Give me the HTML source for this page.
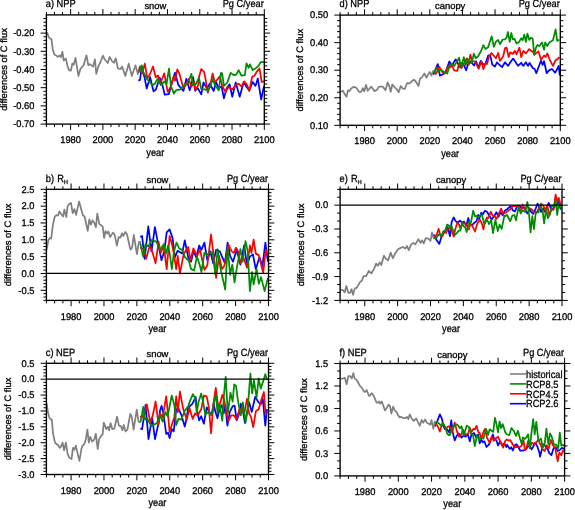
<!DOCTYPE html>
<html><head><meta charset="utf-8"><style>
html,body{margin:0;padding:0;background:#fff;}
svg{display:block;will-change:transform;}
text{font-family:"Liberation Sans",sans-serif;font-size:9.4px;fill:#000;stroke:#000;stroke-width:0.3px;text-rendering:geometricPrecision;}
.t{font-size:9.7px;}
.xy{font-size:10.4px;}
</style></head><body>
<svg width="575" height="510" viewBox="0 0 575 510">
<rect width="575" height="510" fill="#fff"/>
<path d="M46.40 124.10v3.0M46.40 14.90v-3.0M54.47 124.10v3.0M54.47 14.90v-3.0M62.54 124.10v3.0M62.54 14.90v-3.0M70.61 124.10v5.8M70.61 14.90v-5.8M78.68 124.10v3.0M78.68 14.90v-3.0M86.75 124.10v3.0M86.75 14.90v-3.0M94.82 124.10v3.0M94.82 14.90v-3.0M102.89 124.10v5.8M102.89 14.90v-5.8M110.96 124.10v3.0M110.96 14.90v-3.0M119.03 124.10v3.0M119.03 14.90v-3.0M127.10 124.10v3.0M127.10 14.90v-3.0M135.17 124.10v5.8M135.17 14.90v-5.8M143.24 124.10v3.0M143.24 14.90v-3.0M151.31 124.10v3.0M151.31 14.90v-3.0M159.39 124.10v3.0M159.39 14.90v-3.0M167.46 124.10v5.8M167.46 14.90v-5.8M175.53 124.10v3.0M175.53 14.90v-3.0M183.60 124.10v3.0M183.60 14.90v-3.0M191.67 124.10v3.0M191.67 14.90v-3.0M199.74 124.10v5.8M199.74 14.90v-5.8M207.81 124.10v3.0M207.81 14.90v-3.0M215.88 124.10v3.0M215.88 14.90v-3.0M223.95 124.10v3.0M223.95 14.90v-3.0M232.02 124.10v5.8M232.02 14.90v-5.8M240.09 124.10v3.0M240.09 14.90v-3.0M248.16 124.10v3.0M248.16 14.90v-3.0M256.23 124.10v3.0M256.23 14.90v-3.0M264.30 124.10v5.8M264.30 14.90v-5.8M46.40 124.10h-5.8M264.30 124.10h5.8M46.40 120.46h-3.0M264.30 120.46h3.0M46.40 116.82h-3.0M264.30 116.82h3.0M46.40 113.18h-3.0M264.30 113.18h3.0M46.40 109.54h-3.0M264.30 109.54h3.0M46.40 105.90h-5.8M264.30 105.90h5.8M46.40 102.26h-3.0M264.30 102.26h3.0M46.40 98.62h-3.0M264.30 98.62h3.0M46.40 94.98h-3.0M264.30 94.98h3.0M46.40 91.34h-3.0M264.30 91.34h3.0M46.40 87.70h-5.8M264.30 87.70h5.8M46.40 84.06h-3.0M264.30 84.06h3.0M46.40 80.42h-3.0M264.30 80.42h3.0M46.40 76.78h-3.0M264.30 76.78h3.0M46.40 73.14h-3.0M264.30 73.14h3.0M46.40 69.50h-5.8M264.30 69.50h5.8M46.40 65.86h-3.0M264.30 65.86h3.0M46.40 62.22h-3.0M264.30 62.22h3.0M46.40 58.58h-3.0M264.30 58.58h3.0M46.40 54.94h-3.0M264.30 54.94h3.0M46.40 51.30h-5.8M264.30 51.30h5.8M46.40 47.66h-3.0M264.30 47.66h3.0M46.40 44.02h-3.0M264.30 44.02h3.0M46.40 40.38h-3.0M264.30 40.38h3.0M46.40 36.74h-3.0M264.30 36.74h3.0M46.40 33.10h-5.8M264.30 33.10h5.8M46.40 29.46h-3.0M264.30 29.46h3.0M46.40 25.82h-3.0M264.30 25.82h3.0M46.40 22.18h-3.0M264.30 22.18h3.0M46.40 18.54h-3.0M264.30 18.54h3.0" stroke="#000" stroke-width="1" fill="none"/>
<text class="t" transform="translate(34.40,36.30) scale(0.96,1)" text-anchor="end">-0.20</text>
<text class="t" transform="translate(34.40,54.50) scale(0.96,1)" text-anchor="end">-0.30</text>
<text class="t" transform="translate(34.40,72.70) scale(0.96,1)" text-anchor="end">-0.40</text>
<text class="t" transform="translate(34.40,90.90) scale(0.96,1)" text-anchor="end">-0.50</text>
<text class="t" transform="translate(34.40,109.10) scale(0.96,1)" text-anchor="end">-0.60</text>
<text class="t" transform="translate(34.40,127.30) scale(0.96,1)" text-anchor="end">-0.70</text>
<text class="t" transform="translate(70.61,143.20) scale(0.96,1)" text-anchor="middle">1980</text>
<text class="t" transform="translate(102.89,143.20) scale(0.96,1)" text-anchor="middle">2000</text>
<text class="t" transform="translate(135.17,143.20) scale(0.96,1)" text-anchor="middle">2020</text>
<text class="t" transform="translate(167.46,143.20) scale(0.96,1)" text-anchor="middle">2040</text>
<text class="t" transform="translate(199.74,143.20) scale(0.96,1)" text-anchor="middle">2060</text>
<text class="t" transform="translate(232.02,143.20) scale(0.96,1)" text-anchor="middle">2080</text>
<text class="t" transform="translate(264.30,143.20) scale(0.96,1)" text-anchor="middle">2100</text>
<text class="xy" transform="translate(155.35,155.50) scale(0.89,1)" text-anchor="middle">year</text>
<text transform="translate(6.90,69.50) rotate(-90)" text-anchor="middle">differences of C flux</text>
<text class="xy" transform="translate(45.80,7.10) scale(0.89,1)">a) NPP</text>
<text x="155.35" y="8.90" text-anchor="middle">snow</text>
<text class="xy" transform="translate(263.80,7.10) scale(0.89,1)" text-anchor="end">Pg C/year</text>
<path d="M138.3 80.6 L140.0 80.0 L141.7 67.0 L144.5 77.2 L146.7 88.5 L150.1 77.2 L153.5 91.3 L155.8 89.7 L159.7 77.8 L162.0 83.4 L164.8 94.7 L168.8 94.2 L172.2 81.7 L175.0 72.7 L178.4 85.1 L183.5 90.8 L186.3 78.9 L189.7 90.2 L193.1 77.2 L195.3 90.8 L197.6 88.0 L199.0 90.4 L201.3 94.4 L203.5 82.5 L206.9 88.2 L209.7 83.7 L213.7 91.0 L216.0 82.0 L218.8 88.2 L221.6 86.5 L223.9 98.3 L226.7 88.2 L229.5 84.2 L232.3 96.7 L235.7 82.5 L239.7 96.7 L243.7 82.0 L245.9 85.9 L249.3 90.4 L252.7 82.0 L255.5 85.9 L257.8 78.6 L261.2 99.5 L264.0 85.9" stroke="#0000ff" stroke-width="1.75" fill="none" stroke-linejoin="round"/>
<path d="M138.3 72.7 L140.0 66.5 L142.2 73.3 L144.8 63.7 L147.3 78.3 L149.6 75.0 L153.0 66.5 L155.8 77.2 L158.0 75.5 L160.3 83.4 L164.3 73.3 L167.7 91.9 L170.5 87.4 L173.9 76.1 L175.0 80.6 L177.3 69.3 L179.5 73.8 L181.2 80.6 L183.5 88.0 L185.7 85.1 L188.6 78.9 L191.4 86.8 L194.2 81.7 L195.3 90.2 L198.2 85.1 L199.0 76.9 L201.3 69.0 L204.1 71.8 L205.8 80.3 L207.8 92.7 L210.3 84.8 L212.6 73.5 L214.8 82.5 L217.7 79.1 L219.9 76.3 L222.2 85.9 L225.6 92.1 L228.4 87.0 L232.3 89.3 L236.3 84.8 L238.6 83.7 L241.4 86.5 L244.2 81.4 L247.0 84.8 L249.3 91.0 L252.1 76.9 L254.4 75.7 L256.7 71.8 L259.5 68.4 L261.7 82.0 L264.0 81.4" stroke="#ff0000" stroke-width="1.75" fill="none" stroke-linejoin="round"/>
<path d="M138.3 72.7 L141.7 65.3 L143.3 72.1 L147.3 79.5 L152.4 85.1 L154.7 84.0 L157.5 78.9 L160.9 85.1 L164.3 81.7 L166.5 84.0 L169.0 68.7 L171.0 86.3 L173.9 93.6 L176.1 90.2 L180.7 89.4 L182.3 86.8 L185.7 84.0 L188.0 83.4 L191.4 73.8 L193.1 85.1 L195.9 84.0 L199.0 78.0 L201.3 89.3 L204.7 89.3 L208.0 90.4 L210.3 86.5 L212.6 79.1 L214.8 84.8 L218.8 90.4 L221.0 72.9 L222.2 73.5 L223.9 85.9 L227.3 82.5 L230.7 72.9 L234.0 75.2 L236.3 74.6 L238.6 70.1 L241.4 75.7 L244.8 75.2 L246.5 63.3 L248.7 67.8 L249.9 64.4 L252.7 70.1 L255.5 68.4 L258.3 66.1 L260.6 62.2 L264.0 62.2" stroke="#008c00" stroke-width="1.75" fill="none" stroke-linejoin="round"/>
<path d="M47.1 32.3 L48.7 37.0 L50.2 38.6 L51.5 39.1 L52.8 49.5 L54.4 54.7 L56.0 55.3 L57.7 56.8 L59.6 55.6 L60.9 57.3 L62.4 51.9 L63.8 60.5 L65.9 58.6 L67.4 65.7 L69.2 70.4 L70.9 70.7 L72.3 63.6 L73.7 64.7 L75.5 57.9 L78.4 75.9 L80.5 68.8 L83.6 65.2 L86.5 55.3 L88.3 65.2 L89.9 64.1 L93.0 66.7 L94.9 59.4 L96.3 73.8 L98.4 66.2 L100.0 63.2 L102.9 55.7 L104.7 59.5 L107.8 63.0 L109.6 56.9 L112.0 61.1 L114.1 62.7 L115.7 58.2 L117.9 68.2 L120.3 69.2 L122.1 66.5 L125.3 75.9 L128.7 63.7 L131.8 76.0 L135.5 65.3 L138.1 74.7" stroke="#808080" stroke-width="1.75" fill="none" stroke-linejoin="round"/>
<rect x="46.40" y="14.90" width="217.90" height="109.20" stroke="#000" stroke-width="1.35" fill="none"/>
<path d="M46.40 300.40v3.0M46.40 189.30v-3.0M54.63 300.40v3.0M54.63 189.30v-3.0M62.85 300.40v3.0M62.85 189.30v-3.0M71.08 300.40v5.8M71.08 189.30v-5.8M79.30 300.40v3.0M79.30 189.30v-3.0M87.53 300.40v3.0M87.53 189.30v-3.0M95.76 300.40v3.0M95.76 189.30v-3.0M103.98 300.40v5.8M103.98 189.30v-5.8M112.21 300.40v3.0M112.21 189.30v-3.0M120.43 300.40v3.0M120.43 189.30v-3.0M128.66 300.40v3.0M128.66 189.30v-3.0M136.89 300.40v5.8M136.89 189.30v-5.8M145.11 300.40v3.0M145.11 189.30v-3.0M153.34 300.40v3.0M153.34 189.30v-3.0M161.56 300.40v3.0M161.56 189.30v-3.0M169.79 300.40v5.8M169.79 189.30v-5.8M178.01 300.40v3.0M178.01 189.30v-3.0M186.24 300.40v3.0M186.24 189.30v-3.0M194.47 300.40v3.0M194.47 189.30v-3.0M202.69 300.40v5.8M202.69 189.30v-5.8M210.92 300.40v3.0M210.92 189.30v-3.0M219.14 300.40v3.0M219.14 189.30v-3.0M227.37 300.40v3.0M227.37 189.30v-3.0M235.60 300.40v5.8M235.60 189.30v-5.8M243.82 300.40v3.0M243.82 189.30v-3.0M252.05 300.40v3.0M252.05 189.30v-3.0M260.27 300.40v3.0M260.27 189.30v-3.0M268.50 300.40v5.8M268.50 189.30v-5.8M46.40 300.40h-3.0M268.50 300.40h3.0M46.40 297.03h-3.0M268.50 297.03h3.0M46.40 293.67h-3.0M268.50 293.67h3.0M46.40 290.30h-5.8M268.50 290.30h5.8M46.40 286.93h-3.0M268.50 286.93h3.0M46.40 283.57h-3.0M268.50 283.57h3.0M46.40 280.20h-3.0M268.50 280.20h3.0M46.40 276.83h-3.0M268.50 276.83h3.0M46.40 273.47h-5.8M268.50 273.47h5.8M46.40 270.10h-3.0M268.50 270.10h3.0M46.40 266.73h-3.0M268.50 266.73h3.0M46.40 263.37h-3.0M268.50 263.37h3.0M46.40 260.00h-3.0M268.50 260.00h3.0M46.40 256.63h-5.8M268.50 256.63h5.8M46.40 253.27h-3.0M268.50 253.27h3.0M46.40 249.90h-3.0M268.50 249.90h3.0M46.40 246.53h-3.0M268.50 246.53h3.0M46.40 243.17h-3.0M268.50 243.17h3.0M46.40 239.80h-5.8M268.50 239.80h5.8M46.40 236.43h-3.0M268.50 236.43h3.0M46.40 233.07h-3.0M268.50 233.07h3.0M46.40 229.70h-3.0M268.50 229.70h3.0M46.40 226.33h-3.0M268.50 226.33h3.0M46.40 222.97h-5.8M268.50 222.97h5.8M46.40 219.60h-3.0M268.50 219.60h3.0M46.40 216.23h-3.0M268.50 216.23h3.0M46.40 212.87h-3.0M268.50 212.87h3.0M46.40 209.50h-3.0M268.50 209.50h3.0M46.40 206.13h-5.8M268.50 206.13h5.8M46.40 202.77h-3.0M268.50 202.77h3.0M46.40 199.40h-3.0M268.50 199.40h3.0M46.40 196.03h-3.0M268.50 196.03h3.0M46.40 192.67h-3.0M268.50 192.67h3.0M46.40 189.30h-5.8M268.50 189.30h5.8" stroke="#000" stroke-width="1" fill="none"/>
<text class="t" transform="translate(34.40,192.50) scale(0.96,1)" text-anchor="end">2.5</text>
<text class="t" transform="translate(34.40,209.33) scale(0.96,1)" text-anchor="end">2.0</text>
<text class="t" transform="translate(34.40,226.17) scale(0.96,1)" text-anchor="end">1.5</text>
<text class="t" transform="translate(34.40,243.00) scale(0.96,1)" text-anchor="end">1.0</text>
<text class="t" transform="translate(34.40,259.83) scale(0.96,1)" text-anchor="end">0.5</text>
<text class="t" transform="translate(34.40,276.67) scale(0.96,1)" text-anchor="end">0.0</text>
<text class="t" transform="translate(34.40,293.50) scale(0.96,1)" text-anchor="end">-0.5</text>
<text class="t" transform="translate(71.08,319.50) scale(0.96,1)" text-anchor="middle">1980</text>
<text class="t" transform="translate(103.98,319.50) scale(0.96,1)" text-anchor="middle">2000</text>
<text class="t" transform="translate(136.89,319.50) scale(0.96,1)" text-anchor="middle">2020</text>
<text class="t" transform="translate(169.79,319.50) scale(0.96,1)" text-anchor="middle">2040</text>
<text class="t" transform="translate(202.69,319.50) scale(0.96,1)" text-anchor="middle">2060</text>
<text class="t" transform="translate(235.60,319.50) scale(0.96,1)" text-anchor="middle">2080</text>
<text class="t" transform="translate(268.50,319.50) scale(0.96,1)" text-anchor="middle">2100</text>
<text class="xy" transform="translate(157.45,331.80) scale(0.89,1)" text-anchor="middle">year</text>
<text transform="translate(10.90,244.85) rotate(-90)" text-anchor="middle">differences of C flux</text>
<text class="xy" transform="translate(45.80,181.50) scale(0.89,1)">b) <tspan dx="0.7">R</tspan><tspan font-size="6" dx="0.2" dy="2">H</tspan></text>
<text x="157.45" y="183.30" text-anchor="middle">snow</text>
<text class="xy" transform="translate(268.00,181.50) scale(0.89,1)" text-anchor="end">Pg C/year</text>
<path d="M140.2 236.7 L142.1 236.0 L144.6 258.8 L148.3 226.4 L151.5 251.4 L154.9 227.1 L157.9 242.6 L161.5 260.2 L164.2 251.4 L166.7 232.3 L169.6 229.4 L172.6 238.2 L174.8 257.3 L177.7 250.7 L182.1 253.6 L184.8 240.4 L188.2 257.3 L191.1 261.7 L193.4 251.4 L196.3 257.3 L199.2 245.5 L201.4 249.9 L204.4 242.6 L207.3 260.2 L210.3 251.4 L213.2 263.2 L216.1 249.9 L219.8 251.4 L224.9 263.2 L227.6 242.6 L230.1 255.8 L233.0 261.7 L236.7 249.9 L240.4 264.6 L244.1 245.5 L247.0 264.6 L249.9 256.6 L252.9 254.4 L255.8 269.1 L259.5 257.3 L262.4 266.1 L265.4 242.6 L267.9 261.7" stroke="#0000ff" stroke-width="1.75" fill="none" stroke-linejoin="round"/>
<path d="M140.2 247.7 L143.9 249.2 L146.1 258.8 L149.8 245.5 L152.0 250.7 L155.6 263.2 L158.6 241.9 L160.8 252.9 L163.7 245.5 L166.7 269.1 L169.6 236.0 L171.8 243.3 L174.0 254.4 L176.2 269.1 L177.7 255.8 L179.9 273.5 L183.6 254.4 L186.5 249.2 L188.2 247.0 L190.4 260.2 L193.4 248.5 L197.0 255.8 L200.0 249.9 L204.4 269.8 L207.3 265.4 L211.0 234.5 L213.2 251.4 L216.1 277.9 L219.1 255.8 L222.0 269.1 L224.2 266.1 L228.6 244.8 L231.6 251.4 L233.8 252.9 L236.0 247.7 L238.2 251.4 L240.4 263.2 L243.3 257.3 L247.0 267.6 L249.9 245.5 L251.4 252.9 L253.6 239.6 L255.8 253.6 L258.8 255.1 L263.2 272.7 L265.8 249.9 L267.9 255.8" stroke="#ff0000" stroke-width="1.75" fill="none" stroke-linejoin="round"/>
<path d="M140.2 242.6 L143.1 256.6 L145.4 244.1 L148.3 246.3 L152.0 239.6 L156.4 241.9 L160.1 249.9 L163.7 244.1 L165.9 253.6 L168.1 245.5 L169.6 252.9 L171.8 269.1 L174.0 251.4 L176.5 242.6 L179.2 248.5 L182.1 249.9 L185.1 257.3 L188.9 261.0 L191.1 269.1 L194.1 270.5 L197.0 256.6 L200.0 266.1 L201.4 272.0 L204.4 252.9 L207.3 254.4 L209.5 252.9 L212.5 252.1 L215.4 274.9 L217.6 249.2 L220.6 269.1 L225.2 289.6 L227.6 247.0 L230.1 274.9 L232.3 264.6 L234.5 282.3 L237.4 264.6 L240.4 249.2 L242.6 261.7 L245.5 241.1 L247.7 251.4 L249.9 291.1 L252.1 272.0 L253.6 284.5 L256.6 269.1 L258.8 283.8 L261.0 277.1 L264.6 291.1 L267.9 277.9" stroke="#008c00" stroke-width="1.75" fill="none" stroke-linejoin="round"/>
<path d="M46.6 249.9 L48.4 240.2 L49.7 238.2 L51.2 238.5 L52.9 225.0 L54.6 217.0 L56.3 215.1 L58.0 215.6 L59.5 211.4 L61.4 214.2 L63.1 216.5 L64.4 209.7 L66.3 217.0 L67.6 206.3 L69.3 204.0 L71.0 202.9 L72.7 213.1 L74.4 209.1 L76.1 214.8 L79.1 201.6 L82.9 215.3 L84.6 216.5 L87.7 230.9 L89.3 219.3 L90.8 224.6 L92.5 220.4 L94.2 222.7 L95.9 227.2 L97.3 213.7 L99.3 223.8 L102.7 226.7 L104.1 238.0 L105.5 231.2 L107.2 233.4 L108.4 231.5 L110.1 237.1 L112.9 232.6 L114.6 234.3 L116.9 245.6 L118.6 237.1 L120.3 237.7 L122.0 233.2 L123.1 236.0 L125.3 232.0 L127.0 234.3 L130.4 249.6 L132.1 247.9 L133.8 234.9 L136.9 254.1 L138.9 242.2 L140.9 241.7" stroke="#808080" stroke-width="1.75" fill="none" stroke-linejoin="round"/>
<path d="M46.40 273.47H268.50" stroke="#000" stroke-width="1.2"/>
<rect x="46.40" y="189.30" width="222.10" height="111.10" stroke="#000" stroke-width="1.35" fill="none"/>
<path d="M46.40 474.50v3.0M46.40 363.30v-3.0M54.63 474.50v3.0M54.63 363.30v-3.0M62.85 474.50v3.0M62.85 363.30v-3.0M71.08 474.50v5.8M71.08 363.30v-5.8M79.30 474.50v3.0M79.30 363.30v-3.0M87.53 474.50v3.0M87.53 363.30v-3.0M95.76 474.50v3.0M95.76 363.30v-3.0M103.98 474.50v5.8M103.98 363.30v-5.8M112.21 474.50v3.0M112.21 363.30v-3.0M120.43 474.50v3.0M120.43 363.30v-3.0M128.66 474.50v3.0M128.66 363.30v-3.0M136.89 474.50v5.8M136.89 363.30v-5.8M145.11 474.50v3.0M145.11 363.30v-3.0M153.34 474.50v3.0M153.34 363.30v-3.0M161.56 474.50v3.0M161.56 363.30v-3.0M169.79 474.50v5.8M169.79 363.30v-5.8M178.01 474.50v3.0M178.01 363.30v-3.0M186.24 474.50v3.0M186.24 363.30v-3.0M194.47 474.50v3.0M194.47 363.30v-3.0M202.69 474.50v5.8M202.69 363.30v-5.8M210.92 474.50v3.0M210.92 363.30v-3.0M219.14 474.50v3.0M219.14 363.30v-3.0M227.37 474.50v3.0M227.37 363.30v-3.0M235.60 474.50v5.8M235.60 363.30v-5.8M243.82 474.50v3.0M243.82 363.30v-3.0M252.05 474.50v3.0M252.05 363.30v-3.0M260.27 474.50v3.0M260.27 363.30v-3.0M268.50 474.50v5.8M268.50 363.30v-5.8M46.40 474.50h-5.8M268.50 474.50h5.8M46.40 471.32h-3.0M268.50 471.32h3.0M46.40 468.15h-3.0M268.50 468.15h3.0M46.40 464.97h-3.0M268.50 464.97h3.0M46.40 461.79h-3.0M268.50 461.79h3.0M46.40 458.61h-5.8M268.50 458.61h5.8M46.40 455.44h-3.0M268.50 455.44h3.0M46.40 452.26h-3.0M268.50 452.26h3.0M46.40 449.08h-3.0M268.50 449.08h3.0M46.40 445.91h-3.0M268.50 445.91h3.0M46.40 442.73h-5.8M268.50 442.73h5.8M46.40 439.55h-3.0M268.50 439.55h3.0M46.40 436.37h-3.0M268.50 436.37h3.0M46.40 433.20h-3.0M268.50 433.20h3.0M46.40 430.02h-3.0M268.50 430.02h3.0M46.40 426.84h-5.8M268.50 426.84h5.8M46.40 423.67h-3.0M268.50 423.67h3.0M46.40 420.49h-3.0M268.50 420.49h3.0M46.40 417.31h-3.0M268.50 417.31h3.0M46.40 414.13h-3.0M268.50 414.13h3.0M46.40 410.96h-5.8M268.50 410.96h5.8M46.40 407.78h-3.0M268.50 407.78h3.0M46.40 404.60h-3.0M268.50 404.60h3.0M46.40 401.43h-3.0M268.50 401.43h3.0M46.40 398.25h-3.0M268.50 398.25h3.0M46.40 395.07h-5.8M268.50 395.07h5.8M46.40 391.89h-3.0M268.50 391.89h3.0M46.40 388.72h-3.0M268.50 388.72h3.0M46.40 385.54h-3.0M268.50 385.54h3.0M46.40 382.36h-3.0M268.50 382.36h3.0M46.40 379.19h-5.8M268.50 379.19h5.8M46.40 376.01h-3.0M268.50 376.01h3.0M46.40 372.83h-3.0M268.50 372.83h3.0M46.40 369.65h-3.0M268.50 369.65h3.0M46.40 366.48h-3.0M268.50 366.48h3.0M46.40 363.30h-5.8M268.50 363.30h5.8" stroke="#000" stroke-width="1" fill="none"/>
<text class="t" transform="translate(34.40,366.50) scale(0.96,1)" text-anchor="end">0.5</text>
<text class="t" transform="translate(34.40,382.39) scale(0.96,1)" text-anchor="end">0.0</text>
<text class="t" transform="translate(34.40,398.27) scale(0.96,1)" text-anchor="end">-0.5</text>
<text class="t" transform="translate(34.40,414.16) scale(0.96,1)" text-anchor="end">-1.0</text>
<text class="t" transform="translate(34.40,430.04) scale(0.96,1)" text-anchor="end">-1.5</text>
<text class="t" transform="translate(34.40,445.93) scale(0.96,1)" text-anchor="end">-2.0</text>
<text class="t" transform="translate(34.40,461.81) scale(0.96,1)" text-anchor="end">-2.5</text>
<text class="t" transform="translate(34.40,477.70) scale(0.96,1)" text-anchor="end">-3.0</text>
<text class="t" transform="translate(71.08,493.60) scale(0.96,1)" text-anchor="middle">1980</text>
<text class="t" transform="translate(103.98,493.60) scale(0.96,1)" text-anchor="middle">2000</text>
<text class="t" transform="translate(136.89,493.60) scale(0.96,1)" text-anchor="middle">2020</text>
<text class="t" transform="translate(169.79,493.60) scale(0.96,1)" text-anchor="middle">2040</text>
<text class="t" transform="translate(202.69,493.60) scale(0.96,1)" text-anchor="middle">2060</text>
<text class="t" transform="translate(235.60,493.60) scale(0.96,1)" text-anchor="middle">2080</text>
<text class="t" transform="translate(268.50,493.60) scale(0.96,1)" text-anchor="middle">2100</text>
<text class="xy" transform="translate(157.45,505.90) scale(0.89,1)" text-anchor="middle">year</text>
<text transform="translate(10.90,418.90) rotate(-90)" text-anchor="middle">differences of C flux</text>
<text class="xy" transform="translate(45.80,355.50) scale(0.89,1)">c) NEP</text>
<text x="157.45" y="357.30" text-anchor="middle">snow</text>
<text class="xy" transform="translate(268.00,355.50) scale(0.89,1)" text-anchor="end">Pg C/year</text>
<path d="M140.3 428.5 L142.1 429.1 L145.6 405.0 L148.5 439.1 L152.1 417.4 L155.0 439.1 L158.5 423.2 L160.0 410.7 L161.6 405.9 L163.4 413.4 L166.2 434.0 L168.0 432.6 L169.6 438.1 L171.7 429.2 L173.7 431.3 L176.2 409.3 L178.5 408.6 L181.3 414.8 L184.7 426.5 L186.8 417.5 L188.1 407.9 L190.2 405.9 L192.3 403.8 L195.7 397.0 L197.1 410.7 L199.1 420.3 L201.2 416.2 L203.9 423.7 L206.7 407.3 L209.4 412.1 L211.5 414.8 L213.6 403.7 L215.4 411.9 L217.5 418.1 L219.5 409.2 L221.6 405.1 L223.7 413.3 L225.3 405.1 L227.4 425.6 L229.8 411.9 L232.6 406.4 L234.6 405.7 L236.7 420.2 L238.8 414.7 L240.8 403.7 L242.9 410.5 L244.9 422.9 L247.0 413.3 L249.1 402.3 L251.8 411.9 L255.2 396.8 L258.0 401.6 L260.7 404.4 L262.8 398.9 L265.3 425.6 L267.0 409.2" stroke="#0000ff" stroke-width="1.75" fill="none" stroke-linejoin="round"/>
<path d="M140.3 417.4 L142.1 415.6 L143.8 418.5 L146.8 404.4 L150.3 422.1 L152.6 416.2 L155.6 401.5 L158.5 424.4 L160.0 413.4 L162.7 417.5 L166.2 396.3 L168.2 416.2 L169.6 432.0 L172.4 423.0 L174.4 416.9 L176.2 396.3 L177.8 412.1 L179.9 391.5 L183.3 409.3 L186.8 419.6 L189.5 407.9 L192.7 418.9 L195.0 413.4 L197.7 415.5 L201.2 409.3 L203.9 395.6 L206.7 396.3 L208.7 406.6 L211.1 433.3 L213.4 403.7 L215.8 387.9 L218.2 406.4 L220.5 402.3 L222.3 394.8 L224.4 400.9 L226.4 413.3 L228.5 420.8 L231.2 415.4 L234.0 415.4 L236.4 419.5 L239.5 409.2 L241.5 409.2 L244.3 413.3 L247.0 398.9 L249.1 413.3 L251.1 417.4 L253.2 427.0 L255.9 411.2 L258.7 409.2 L261.4 399.6 L263.9 392.0 L265.5 413.3 L267.0 413.3" stroke="#ff0000" stroke-width="1.75" fill="none" stroke-linejoin="round"/>
<path d="M140.3 422.6 L141.5 416.8 L143.2 406.8 L145.0 419.7 L146.8 417.9 L149.1 422.1 L151.5 426.2 L154.4 424.4 L156.8 423.2 L160.0 415.5 L162.7 421.7 L165.5 412.1 L167.5 416.2 L168.9 410.0 L171.7 395.6 L174.4 405.2 L176.2 425.1 L178.5 418.9 L181.3 419.6 L184.7 410.7 L188.1 406.6 L190.2 400.4 L192.9 394.2 L195.0 397.6 L196.8 412.7 L198.4 402.5 L201.2 393.5 L203.2 402.5 L205.3 414.8 L208.0 412.1 L210.8 414.8 L212.8 411.4 L214.1 402.3 L216.1 394.8 L217.5 413.3 L219.5 403.7 L222.3 420.8 L224.1 392.7 L225.7 376.9 L227.8 413.3 L230.5 392.7 L232.6 401.6 L234.2 384.5 L236.0 385.8 L238.1 401.6 L240.8 415.4 L242.9 402.3 L245.6 422.9 L248.0 405.1 L250.4 373.5 L252.2 393.4 L253.9 380.4 L256.6 397.5 L258.7 378.3 L260.7 388.6 L262.8 382.4 L265.3 374.2 L267.0 379.7" stroke="#008c00" stroke-width="1.75" fill="none" stroke-linejoin="round"/>
<path d="M46.6 403.1 L47.9 412.1 L49.1 416.8 L50.3 419.1 L51.8 419.7 L53.0 433.2 L55.0 442.6 L56.8 444.4 L58.2 445.0 L59.7 447.9 L60.9 446.8 L62.6 442.6 L64.1 450.3 L65.9 442.6 L67.6 453.8 L69.1 457.4 L71.5 459.1 L73.0 447.9 L74.4 449.7 L75.8 445.6 L77.4 452.6 L79.4 460.9 L81.5 448.5 L82.6 445.6 L84.4 443.8 L85.6 440.3 L87.4 429.7 L88.8 442.6 L90.3 436.8 L92.1 441.5 L94.2 439.7 L95.8 433.8 L97.7 449.1 L99.1 439.1 L100.9 436.2 L102.6 434.4 L103.8 422.6 L105.0 425.6 L106.2 429.1 L107.9 426.8 L109.1 430.3 L110.6 423.2 L112.3 429.1 L114.4 428.5 L117.0 416.8 L118.9 425.6 L120.9 426.2 L122.4 430.3 L123.8 425.0 L125.6 431.5 L127.4 429.7 L130.3 413.8 L131.8 416.8 L133.6 429.7 L136.8 409.7 L138.5 421.5 L140.3 422.6" stroke="#808080" stroke-width="1.75" fill="none" stroke-linejoin="round"/>
<path d="M46.40 379.19H268.50" stroke="#000" stroke-width="1.2"/>
<rect x="46.40" y="363.30" width="222.10" height="111.20" stroke="#000" stroke-width="1.35" fill="none"/>
<path d="M340.10 125.30v3.0M340.10 15.10v-3.0M348.26 125.30v3.0M348.26 15.10v-3.0M356.41 125.30v3.0M356.41 15.10v-3.0M364.57 125.30v5.8M364.57 15.10v-5.8M372.72 125.30v3.0M372.72 15.10v-3.0M380.88 125.30v3.0M380.88 15.10v-3.0M389.03 125.30v3.0M389.03 15.10v-3.0M397.19 125.30v5.8M397.19 15.10v-5.8M405.34 125.30v3.0M405.34 15.10v-3.0M413.50 125.30v3.0M413.50 15.10v-3.0M421.66 125.30v3.0M421.66 15.10v-3.0M429.81 125.30v5.8M429.81 15.10v-5.8M437.97 125.30v3.0M437.97 15.10v-3.0M446.12 125.30v3.0M446.12 15.10v-3.0M454.28 125.30v3.0M454.28 15.10v-3.0M462.43 125.30v5.8M462.43 15.10v-5.8M470.59 125.30v3.0M470.59 15.10v-3.0M478.74 125.30v3.0M478.74 15.10v-3.0M486.90 125.30v3.0M486.90 15.10v-3.0M495.06 125.30v5.8M495.06 15.10v-5.8M503.21 125.30v3.0M503.21 15.10v-3.0M511.37 125.30v3.0M511.37 15.10v-3.0M519.52 125.30v3.0M519.52 15.10v-3.0M527.68 125.30v5.8M527.68 15.10v-5.8M535.83 125.30v3.0M535.83 15.10v-3.0M543.99 125.30v3.0M543.99 15.10v-3.0M552.14 125.30v3.0M552.14 15.10v-3.0M560.30 125.30v5.8M560.30 15.10v-5.8M340.10 125.30h-5.8M560.30 125.30h5.8M340.10 119.79h-3.0M560.30 119.79h3.0M340.10 114.28h-3.0M560.30 114.28h3.0M340.10 108.77h-3.0M560.30 108.77h3.0M340.10 103.26h-3.0M560.30 103.26h3.0M340.10 97.75h-5.8M560.30 97.75h5.8M340.10 92.24h-3.0M560.30 92.24h3.0M340.10 86.73h-3.0M560.30 86.73h3.0M340.10 81.22h-3.0M560.30 81.22h3.0M340.10 75.71h-3.0M560.30 75.71h3.0M340.10 70.20h-5.8M560.30 70.20h5.8M340.10 64.69h-3.0M560.30 64.69h3.0M340.10 59.18h-3.0M560.30 59.18h3.0M340.10 53.67h-3.0M560.30 53.67h3.0M340.10 48.16h-3.0M560.30 48.16h3.0M340.10 42.65h-5.8M560.30 42.65h5.8M340.10 37.14h-3.0M560.30 37.14h3.0M340.10 31.63h-3.0M560.30 31.63h3.0M340.10 26.12h-3.0M560.30 26.12h3.0M340.10 20.61h-3.0M560.30 20.61h3.0M340.10 15.10h-5.8M560.30 15.10h5.8" stroke="#000" stroke-width="1" fill="none"/>
<text class="t" transform="translate(328.10,18.30) scale(0.96,1)" text-anchor="end">0.50</text>
<text class="t" transform="translate(328.10,45.85) scale(0.96,1)" text-anchor="end">0.40</text>
<text class="t" transform="translate(328.10,73.40) scale(0.96,1)" text-anchor="end">0.30</text>
<text class="t" transform="translate(328.10,100.95) scale(0.96,1)" text-anchor="end">0.20</text>
<text class="t" transform="translate(328.10,128.50) scale(0.96,1)" text-anchor="end">0.10</text>
<text class="t" transform="translate(364.57,144.40) scale(0.96,1)" text-anchor="middle">1980</text>
<text class="t" transform="translate(397.19,144.40) scale(0.96,1)" text-anchor="middle">2000</text>
<text class="t" transform="translate(429.81,144.40) scale(0.96,1)" text-anchor="middle">2020</text>
<text class="t" transform="translate(462.43,144.40) scale(0.96,1)" text-anchor="middle">2040</text>
<text class="t" transform="translate(495.06,144.40) scale(0.96,1)" text-anchor="middle">2060</text>
<text class="t" transform="translate(527.68,144.40) scale(0.96,1)" text-anchor="middle">2080</text>
<text class="t" transform="translate(560.30,144.40) scale(0.96,1)" text-anchor="middle">2100</text>
<text class="xy" transform="translate(450.20,156.70) scale(0.89,1)" text-anchor="middle">year</text>
<text transform="translate(303.20,70.20) rotate(-90)" text-anchor="middle">differences of C flux</text>
<text class="xy" transform="translate(339.50,7.30) scale(0.89,1)">d) NPP</text>
<text x="450.20" y="9.10" text-anchor="middle">canopy</text>
<text class="xy" transform="translate(559.80,7.30) scale(0.89,1)" text-anchor="end">Pg C/year</text>
<path d="M433.1 70.9 L433.8 74.0 L435.5 69.3 L437.8 64.1 L439.9 75.6 L443.5 74.0 L446.1 70.9 L449.3 61.5 L450.0 62.4 L452.1 66.6 L453.7 62.4 L455.7 59.3 L457.8 63.5 L459.9 67.1 L461.5 63.0 L463.6 64.5 L466.2 70.3 L468.3 63.0 L470.9 61.4 L474.0 65.6 L476.1 61.4 L478.2 67.7 L480.8 60.9 L483.4 64.5 L485.5 64.0 L488.1 55.7 L490.2 55.1 L492.3 64.5 L494.9 66.6 L497.0 62.4 L499.6 65.0 L502.2 67.1 L505.0 62.3 L508.1 65.9 L510.7 61.7 L513.1 58.6 L515.4 61.7 L518.0 65.9 L521.2 62.8 L523.3 65.9 L525.9 62.3 L528.0 65.9 L529.5 62.8 L532.7 68.0 L534.7 69.0 L536.3 73.2 L538.4 67.5 L541.0 60.7 L542.6 64.9 L544.1 61.2 L546.7 73.2 L549.3 70.1 L552.0 69.0 L555.1 72.7 L557.2 69.0 L558.7 65.9 L559.8 75.3" stroke="#0000ff" stroke-width="1.75" fill="none" stroke-linejoin="round"/>
<path d="M433.1 70.9 L434.1 72.4 L435.9 74.0 L439.3 66.7 L442.5 72.4 L444.6 73.5 L447.2 68.3 L449.3 65.7 L450.0 67.7 L451.6 64.5 L454.2 70.3 L457.3 70.8 L459.4 62.4 L461.5 68.2 L463.6 64.0 L466.7 58.3 L468.8 64.5 L470.3 54.6 L472.4 61.4 L475.0 61.4 L478.7 68.7 L481.3 61.4 L483.4 69.2 L485.5 63.5 L487.0 64.0 L489.1 56.2 L491.5 53.0 L493.8 55.7 L495.9 58.3 L498.2 53.0 L499.9 60.9 L503.2 56.2 L505.0 48.2 L506.6 47.7 L508.7 57.0 L510.2 52.3 L512.8 53.9 L514.9 50.8 L516.5 54.4 L519.4 47.7 L521.2 57.0 L523.3 50.8 L525.9 53.4 L529.0 49.2 L532.7 51.8 L534.7 54.4 L538.4 51.3 L541.0 59.7 L544.1 55.5 L545.7 57.0 L547.3 53.4 L549.9 60.2 L553.0 65.9 L555.6 60.2 L557.7 59.1 L559.3 57.0" stroke="#ff0000" stroke-width="1.75" fill="none" stroke-linejoin="round"/>
<path d="M433.1 70.9 L434.1 72.4 L436.7 67.7 L438.3 71.9 L440.9 69.8 L444.0 71.9 L447.2 73.5 L450.0 64.5 L452.1 63.5 L454.2 66.1 L456.3 62.4 L459.2 57.7 L461.0 67.7 L463.8 57.2 L465.7 65.0 L467.7 58.8 L469.8 63.5 L471.9 62.4 L473.8 53.6 L475.6 58.3 L478.2 56.2 L480.8 51.5 L483.4 45.2 L485.5 48.9 L488.1 47.3 L491.7 36.3 L493.8 46.8 L495.9 41.6 L498.0 40.0 L500.1 44.2 L502.7 39.5 L505.0 39.3 L506.6 37.7 L507.9 32.0 L509.7 41.9 L511.3 33.0 L512.8 39.3 L514.6 38.8 L516.5 43.5 L519.1 41.9 L521.2 38.3 L522.7 40.3 L524.3 34.6 L525.9 41.9 L527.4 33.6 L529.2 39.8 L531.1 37.7 L532.7 38.8 L534.2 55.0 L535.8 48.2 L537.3 45.0 L539.4 46.1 L542.0 42.4 L544.1 49.7 L545.2 42.4 L547.3 46.1 L549.3 42.4 L553.0 40.3 L555.6 29.4 L557.2 40.9 L559.3 39.8" stroke="#008c00" stroke-width="1.75" fill="none" stroke-linejoin="round"/>
<path d="M340.6 91.8 L343.0 90.8 L344.8 94.4 L346.6 96.7 L347.9 90.3 L349.5 91.1 L351.0 88.7 L353.4 86.9 L356.3 87.7 L358.3 90.8 L359.9 92.3 L361.5 91.3 L362.8 88.2 L364.3 91.3 L366.0 84.8 L367.7 90.8 L371.2 86.6 L374.3 91.1 L377.1 89.7 L378.9 86.6 L382.7 86.6 L385.5 90.3 L387.6 82.4 L389.1 85.6 L390.7 91.8 L392.3 84.5 L395.0 87.6 L396.6 89.1 L398.7 92.3 L400.7 86.0 L402.8 88.6 L404.9 88.8 L407.0 83.2 L409.6 83.4 L411.7 81.3 L413.8 79.7 L415.3 80.8 L418.5 86.0 L420.0 78.7 L422.1 77.1 L424.4 73.5 L426.5 77.7 L429.6 71.9 L431.5 75.6 L433.1 70.7" stroke="#808080" stroke-width="1.75" fill="none" stroke-linejoin="round"/>
<rect x="340.10" y="15.10" width="220.20" height="110.20" stroke="#000" stroke-width="1.35" fill="none"/>
<path d="M340.10 300.40v3.0M340.10 189.30v-3.0M348.32 300.40v3.0M348.32 189.30v-3.0M356.54 300.40v3.0M356.54 189.30v-3.0M364.76 300.40v5.8M364.76 189.30v-5.8M372.97 300.40v3.0M372.97 189.30v-3.0M381.19 300.40v3.0M381.19 189.30v-3.0M389.41 300.40v3.0M389.41 189.30v-3.0M397.63 300.40v5.8M397.63 189.30v-5.8M405.85 300.40v3.0M405.85 189.30v-3.0M414.07 300.40v3.0M414.07 189.30v-3.0M422.29 300.40v3.0M422.29 189.30v-3.0M430.50 300.40v5.8M430.50 189.30v-5.8M438.72 300.40v3.0M438.72 189.30v-3.0M446.94 300.40v3.0M446.94 189.30v-3.0M455.16 300.40v3.0M455.16 189.30v-3.0M463.38 300.40v5.8M463.38 189.30v-5.8M471.60 300.40v3.0M471.60 189.30v-3.0M479.81 300.40v3.0M479.81 189.30v-3.0M488.03 300.40v3.0M488.03 189.30v-3.0M496.25 300.40v5.8M496.25 189.30v-5.8M504.47 300.40v3.0M504.47 189.30v-3.0M512.69 300.40v3.0M512.69 189.30v-3.0M520.91 300.40v3.0M520.91 189.30v-3.0M529.13 300.40v5.8M529.13 189.30v-5.8M537.34 300.40v3.0M537.34 189.30v-3.0M545.56 300.40v3.0M545.56 189.30v-3.0M553.78 300.40v3.0M553.78 189.30v-3.0M562.00 300.40v5.8M562.00 189.30v-5.8M340.10 300.40h-5.8M562.00 300.40h5.8M340.10 292.46h-3.0M562.00 292.46h3.0M340.10 284.53h-3.0M562.00 284.53h3.0M340.10 276.59h-5.8M562.00 276.59h5.8M340.10 268.66h-3.0M562.00 268.66h3.0M340.10 260.72h-3.0M562.00 260.72h3.0M340.10 252.79h-5.8M562.00 252.79h5.8M340.10 244.85h-3.0M562.00 244.85h3.0M340.10 236.91h-3.0M562.00 236.91h3.0M340.10 228.98h-5.8M562.00 228.98h5.8M340.10 221.04h-3.0M562.00 221.04h3.0M340.10 213.11h-3.0M562.00 213.11h3.0M340.10 205.17h-5.8M562.00 205.17h5.8M340.10 197.24h-3.0M562.00 197.24h3.0M340.10 189.30h-3.0M562.00 189.30h3.0" stroke="#000" stroke-width="1" fill="none"/>
<text class="t" transform="translate(328.10,208.37) scale(0.96,1)" text-anchor="end">0.0</text>
<text class="t" transform="translate(328.10,232.18) scale(0.96,1)" text-anchor="end">-0.3</text>
<text class="t" transform="translate(328.10,255.99) scale(0.96,1)" text-anchor="end">-0.6</text>
<text class="t" transform="translate(328.10,279.79) scale(0.96,1)" text-anchor="end">-0.9</text>
<text class="t" transform="translate(328.10,303.60) scale(0.96,1)" text-anchor="end">-1.2</text>
<text class="t" transform="translate(364.76,319.50) scale(0.96,1)" text-anchor="middle">1980</text>
<text class="t" transform="translate(397.63,319.50) scale(0.96,1)" text-anchor="middle">2000</text>
<text class="t" transform="translate(430.50,319.50) scale(0.96,1)" text-anchor="middle">2020</text>
<text class="t" transform="translate(463.38,319.50) scale(0.96,1)" text-anchor="middle">2040</text>
<text class="t" transform="translate(496.25,319.50) scale(0.96,1)" text-anchor="middle">2060</text>
<text class="t" transform="translate(529.13,319.50) scale(0.96,1)" text-anchor="middle">2080</text>
<text class="t" transform="translate(562.00,319.50) scale(0.96,1)" text-anchor="middle">2100</text>
<text class="xy" transform="translate(451.05,331.80) scale(0.89,1)" text-anchor="middle">year</text>
<text transform="translate(304.20,244.85) rotate(-90)" text-anchor="middle">differences of C flux</text>
<text class="xy" transform="translate(339.50,181.50) scale(0.89,1)">e) <tspan dx="0.7">R</tspan><tspan font-size="6" dx="0.2" dy="2">H</tspan></text>
<text x="451.05" y="183.30" text-anchor="middle">canopy</text>
<text class="xy" transform="translate(561.50,181.50) scale(0.89,1)" text-anchor="end">Pg C/year</text>
<path d="M433.6 237.7 L434.1 235.0 L436.7 240.3 L439.3 243.9 L441.4 237.1 L443.5 231.4 L445.1 230.9 L447.7 227.2 L450.0 236.2 L451.6 222.1 L453.7 217.4 L455.7 221.1 L457.8 222.7 L459.9 220.6 L462.0 222.7 L464.1 221.6 L466.2 225.8 L468.3 218.0 L469.8 223.7 L471.9 225.3 L474.5 222.7 L476.6 221.1 L478.2 214.8 L479.2 219.0 L481.3 212.7 L482.9 214.3 L485.0 210.7 L487.0 211.7 L489.1 215.3 L491.7 219.5 L494.3 215.9 L496.4 212.2 L498.5 216.9 L500.6 212.2 L502.7 215.3 L504.8 210.7 L507.1 209.3 L508.7 207.7 L510.7 206.2 L512.8 210.3 L514.9 211.4 L517.0 206.7 L519.6 205.7 L521.7 208.3 L523.8 207.2 L525.9 210.9 L527.4 213.5 L529.5 209.3 L531.6 212.4 L533.2 214.0 L535.8 208.3 L537.6 203.6 L538.9 206.2 L541.0 211.9 L543.1 208.8 L545.2 211.9 L546.7 207.2 L548.8 203.0 L550.9 208.8 L553.0 209.3 L555.1 205.7 L557.2 203.6 L558.7 202.0 L560.3 208.3 L561.3 209.3" stroke="#0000ff" stroke-width="1.75" fill="none" stroke-linejoin="round"/>
<path d="M433.6 237.7 L434.1 236.6 L436.7 235.0 L438.6 228.8 L440.4 235.6 L442.5 236.1 L444.6 231.4 L446.1 233.0 L448.2 228.3 L450.0 227.3 L451.6 230.5 L453.7 236.7 L455.2 229.4 L457.3 222.7 L458.9 224.2 L460.4 228.4 L462.3 223.2 L464.6 223.2 L466.7 225.3 L468.8 229.4 L470.3 224.2 L472.4 225.8 L475.0 231.5 L477.1 224.2 L479.7 219.5 L481.8 223.2 L483.4 229.4 L485.0 222.1 L487.0 217.4 L488.6 218.0 L490.7 211.7 L492.8 215.9 L494.9 216.4 L496.4 219.0 L499.0 213.3 L501.1 208.6 L503.2 213.8 L505.8 212.7 L507.6 211.4 L510.2 209.3 L512.8 206.2 L515.4 206.2 L518.0 206.2 L520.7 210.9 L522.7 204.6 L524.8 209.3 L526.9 206.2 L529.5 208.3 L531.6 209.3 L533.7 211.9 L536.3 213.0 L538.4 209.3 L541.0 203.6 L543.1 205.1 L545.2 210.3 L547.3 205.7 L549.3 215.0 L551.4 209.3 L553.5 209.8 L555.6 194.7 L557.2 201.5 L558.7 197.8 L560.3 203.6 L561.3 205.7" stroke="#ff0000" stroke-width="1.75" fill="none" stroke-linejoin="round"/>
<path d="M433.6 237.7 L434.1 238.2 L436.7 237.1 L439.3 234.0 L441.4 236.1 L443.5 231.9 L445.1 230.9 L447.2 224.6 L449.3 225.7 L450.0 228.9 L451.6 226.3 L453.1 230.5 L454.7 235.2 L456.8 233.1 L458.9 230.5 L460.4 230.5 L462.0 222.7 L463.6 226.3 L465.1 227.3 L466.7 232.0 L468.8 221.6 L470.9 222.7 L473.2 210.7 L475.0 216.4 L476.6 215.9 L478.2 216.9 L480.3 215.9 L481.8 214.3 L484.4 224.2 L487.0 219.5 L489.1 224.2 L491.2 220.0 L493.0 233.1 L495.4 220.0 L497.8 231.0 L499.6 224.7 L501.7 228.9 L504.3 215.9 L505.0 216.1 L507.1 215.0 L510.2 221.3 L512.3 215.6 L514.4 215.0 L516.0 220.3 L518.6 207.2 L520.7 213.5 L522.7 210.3 L525.3 211.9 L527.4 202.0 L529.0 214.0 L530.6 232.3 L532.3 216.1 L534.0 229.1 L535.8 211.9 L538.4 212.4 L540.5 205.1 L542.6 210.3 L544.1 223.4 L546.2 208.8 L547.8 218.2 L549.9 214.5 L552.0 205.7 L554.0 206.2 L555.6 200.4 L557.2 215.0 L558.7 203.6 L560.3 206.7 L561.3 208.3" stroke="#008c00" stroke-width="1.75" fill="none" stroke-linejoin="round"/>
<path d="M340.6 289.7 L342.7 290.2 L344.8 292.3 L346.3 286.0 L348.4 292.8 L350.0 292.8 L351.6 289.1 L353.1 294.9 L354.7 288.6 L356.8 287.6 L359.9 282.3 L362.0 280.3 L363.6 276.1 L366.2 276.1 L368.8 270.9 L371.4 273.5 L374.0 268.8 L376.1 263.6 L377.7 265.7 L379.7 262.5 L381.3 265.1 L383.9 255.7 L386.0 258.9 L388.1 260.4 L390.7 252.6 L392.8 258.3 L395.0 253.8 L396.0 252.3 L397.6 249.7 L400.2 248.1 L402.8 247.0 L405.4 248.6 L407.0 246.0 L408.8 250.2 L411.2 244.4 L413.3 242.9 L415.3 244.4 L418.5 239.2 L420.6 242.9 L422.1 240.3 L423.7 243.4 L425.8 238.2 L428.4 238.7 L430.5 240.8 L432.0 232.4 L433.6 237.7" stroke="#808080" stroke-width="1.75" fill="none" stroke-linejoin="round"/>
<path d="M340.10 205.17H562.00" stroke="#000" stroke-width="1.2"/>
<rect x="340.10" y="189.30" width="221.90" height="111.10" stroke="#000" stroke-width="1.35" fill="none"/>
<path d="M340.10 475.90v3.0M340.10 363.50v-3.0M348.41 475.90v3.0M348.41 363.50v-3.0M356.73 475.90v3.0M356.73 363.50v-3.0M365.04 475.90v5.8M365.04 363.50v-5.8M373.36 475.90v3.0M373.36 363.50v-3.0M381.67 475.90v3.0M381.67 363.50v-3.0M389.99 475.90v3.0M389.99 363.50v-3.0M398.30 475.90v5.8M398.30 363.50v-5.8M406.62 475.90v3.0M406.62 363.50v-3.0M414.93 475.90v3.0M414.93 363.50v-3.0M423.25 475.90v3.0M423.25 363.50v-3.0M431.56 475.90v5.8M431.56 363.50v-5.8M439.88 475.90v3.0M439.88 363.50v-3.0M448.19 475.90v3.0M448.19 363.50v-3.0M456.51 475.90v3.0M456.51 363.50v-3.0M464.82 475.90v5.8M464.82 363.50v-5.8M473.14 475.90v3.0M473.14 363.50v-3.0M481.45 475.90v3.0M481.45 363.50v-3.0M489.77 475.90v3.0M489.77 363.50v-3.0M498.08 475.90v5.8M498.08 363.50v-5.8M506.40 475.90v3.0M506.40 363.50v-3.0M514.71 475.90v3.0M514.71 363.50v-3.0M523.03 475.90v3.0M523.03 363.50v-3.0M531.34 475.90v5.8M531.34 363.50v-5.8M539.66 475.90v3.0M539.66 363.50v-3.0M547.97 475.90v3.0M547.97 363.50v-3.0M556.29 475.90v3.0M556.29 363.50v-3.0M564.60 475.90v5.8M564.60 363.50v-5.8M340.10 475.90h-5.8M564.60 475.90h5.8M340.10 468.41h-3.0M564.60 468.41h3.0M340.10 460.91h-3.0M564.60 460.91h3.0M340.10 453.42h-5.8M564.60 453.42h5.8M340.10 445.93h-3.0M564.60 445.93h3.0M340.10 438.43h-3.0M564.60 438.43h3.0M340.10 430.94h-5.8M564.60 430.94h5.8M340.10 423.45h-3.0M564.60 423.45h3.0M340.10 415.95h-3.0M564.60 415.95h3.0M340.10 408.46h-5.8M564.60 408.46h5.8M340.10 400.97h-3.0M564.60 400.97h3.0M340.10 393.47h-3.0M564.60 393.47h3.0M340.10 385.98h-5.8M564.60 385.98h5.8M340.10 378.49h-3.0M564.60 378.49h3.0M340.10 370.99h-3.0M564.60 370.99h3.0M340.10 363.50h-5.8M564.60 363.50h5.8" stroke="#000" stroke-width="1" fill="none"/>
<text class="t" transform="translate(328.10,366.70) scale(0.96,1)" text-anchor="end">1.5</text>
<text class="t" transform="translate(328.10,389.18) scale(0.96,1)" text-anchor="end">1.2</text>
<text class="t" transform="translate(328.10,411.66) scale(0.96,1)" text-anchor="end">0.9</text>
<text class="t" transform="translate(328.10,434.14) scale(0.96,1)" text-anchor="end">0.6</text>
<text class="t" transform="translate(328.10,456.62) scale(0.96,1)" text-anchor="end">0.3</text>
<text class="t" transform="translate(328.10,479.10) scale(0.96,1)" text-anchor="end">0.0</text>
<text class="t" transform="translate(365.04,495.00) scale(0.96,1)" text-anchor="middle">1980</text>
<text class="t" transform="translate(398.30,495.00) scale(0.96,1)" text-anchor="middle">2000</text>
<text class="t" transform="translate(431.56,495.00) scale(0.96,1)" text-anchor="middle">2020</text>
<text class="t" transform="translate(464.82,495.00) scale(0.96,1)" text-anchor="middle">2040</text>
<text class="t" transform="translate(498.08,495.00) scale(0.96,1)" text-anchor="middle">2060</text>
<text class="t" transform="translate(531.34,495.00) scale(0.96,1)" text-anchor="middle">2080</text>
<text class="t" transform="translate(564.60,495.00) scale(0.96,1)" text-anchor="middle">2100</text>
<text class="xy" transform="translate(452.35,507.30) scale(0.89,1)" text-anchor="middle">year</text>
<text transform="translate(306.80,419.70) rotate(-90)" text-anchor="middle">differences of C flux</text>
<text class="xy" transform="translate(339.50,355.70) scale(0.89,1)">f) NEP</text>
<text x="452.35" y="357.50" text-anchor="middle">canopy</text>
<text class="xy" transform="translate(564.10,355.70) scale(0.89,1)" text-anchor="end">Pg C/year</text>
<path d="M435.2 422.7 L435.2 425.8 L437.3 421.1 L439.9 414.3 L442.0 419.0 L443.5 426.3 L445.1 429.4 L447.2 429.4 L449.3 432.6 L451.3 420.4 L452.6 431.9 L454.7 440.3 L456.8 435.6 L458.9 433.5 L461.5 437.7 L463.6 435.6 L465.7 436.6 L467.7 434.0 L469.8 441.3 L471.4 434.5 L474.0 433.0 L476.1 437.1 L478.2 434.5 L479.7 443.4 L481.3 439.7 L482.9 442.3 L484.4 441.3 L486.5 447.0 L489.1 444.4 L491.2 438.7 L492.8 434.5 L494.3 439.2 L496.4 440.3 L498.0 445.5 L500.1 441.3 L502.2 445.5 L504.3 443.4 L506.3 447.0 L507.1 444.7 L509.7 448.9 L511.3 447.3 L512.8 450.5 L514.9 445.3 L516.5 444.2 L518.0 446.3 L520.1 450.5 L523.3 450.5 L525.9 449.4 L528.0 446.3 L530.0 446.3 L531.6 449.4 L533.7 445.8 L535.3 442.7 L537.3 446.3 L539.4 452.6 L540.0 456.7 L541.5 451.0 L543.1 444.2 L545.2 445.8 L547.8 449.4 L549.3 453.1 L551.4 455.2 L553.5 448.4 L555.6 447.3 L557.7 451.0 L559.8 450.0 L561.9 447.9 L564.0 448.9" stroke="#0000ff" stroke-width="1.75" fill="none" stroke-linejoin="round"/>
<path d="M435.2 422.7 L435.2 424.2 L437.3 425.3 L439.9 431.5 L442.5 422.7 L444.6 426.3 L446.1 428.4 L448.2 426.3 L450.3 427.3 L452.1 432.4 L454.7 422.5 L456.8 430.9 L458.9 436.6 L461.0 435.0 L463.0 429.8 L465.7 435.0 L468.3 433.5 L469.8 427.7 L471.4 431.9 L473.5 428.8 L475.0 429.3 L476.6 425.7 L478.2 431.9 L479.7 433.0 L481.3 438.7 L483.4 431.9 L485.0 428.8 L487.0 437.7 L489.7 442.9 L491.7 436.6 L493.8 440.8 L495.9 438.2 L498.0 436.6 L500.1 441.3 L502.2 445.0 L503.2 447.6 L505.3 440.8 L506.6 439.5 L508.7 440.6 L510.2 440.0 L512.3 443.7 L514.4 447.3 L516.5 446.8 L519.1 447.3 L521.2 446.3 L523.6 440.6 L524.8 450.0 L526.4 448.4 L528.0 441.1 L530.0 446.8 L532.1 442.7 L534.2 444.2 L536.3 442.1 L538.4 440.0 L540.5 444.7 L542.6 449.4 L544.7 451.0 L546.7 445.3 L548.8 448.4 L550.9 440.0 L553.0 445.3 L555.1 447.3 L557.7 461.4 L559.3 452.6 L561.3 455.2 L562.9 450.5 L564.0 452.0" stroke="#ff0000" stroke-width="1.75" fill="none" stroke-linejoin="round"/>
<path d="M435.2 422.7 L437.3 422.1 L439.3 423.7 L441.4 426.3 L443.0 423.2 L445.1 426.8 L447.2 433.6 L448.7 435.2 L450.0 435.0 L451.6 428.3 L453.7 426.7 L456.3 424.1 L458.3 425.7 L459.9 428.3 L461.5 426.2 L463.6 435.6 L466.7 425.7 L468.8 426.7 L470.9 433.5 L473.0 435.0 L474.8 446.0 L477.1 435.0 L479.2 440.3 L481.3 438.2 L483.4 438.7 L486.0 428.8 L488.1 435.0 L489.7 429.3 L491.7 430.9 L493.3 431.9 L494.9 417.8 L496.4 423.6 L498.0 432.4 L499.6 421.5 L501.1 428.3 L502.7 424.1 L504.3 429.3 L505.0 431.7 L506.6 434.3 L509.2 435.3 L511.5 428.0 L513.9 431.2 L516.0 435.9 L518.0 430.7 L520.1 439.0 L521.7 443.7 L522.9 437.4 L524.8 439.0 L526.4 437.4 L528.0 434.3 L529.8 448.4 L531.6 431.7 L533.2 419.2 L534.7 434.3 L536.3 421.8 L538.4 441.1 L541.0 438.5 L542.8 447.9 L544.7 443.7 L546.4 428.6 L548.3 444.2 L550.1 433.3 L552.0 437.4 L554.0 444.7 L556.1 444.7 L558.2 448.4 L559.8 432.7 L561.3 445.8 L562.9 444.7 L564.0 446.3" stroke="#008c00" stroke-width="1.75" fill="none" stroke-linejoin="round"/>
<path d="M340.6 378.6 L342.7 378.6 L344.8 377.7 L346.6 384.3 L348.4 376.0 L350.0 376.0 L351.8 378.6 L353.4 373.1 L354.7 378.6 L356.8 380.1 L359.9 385.9 L362.0 388.0 L364.1 391.6 L365.3 391.9 L366.7 390.0 L368.8 395.8 L369.8 395.8 L371.6 393.2 L373.5 395.3 L376.6 402.6 L378.2 402.6 L379.2 401.5 L380.3 403.6 L381.8 401.5 L385.0 410.4 L386.8 407.8 L388.6 404.7 L390.0 406.2 L391.4 413.5 L393.1 406.7 L395.0 410.7 L396.6 412.2 L398.1 415.3 L399.7 417.4 L401.3 416.9 L403.3 418.0 L405.4 418.0 L407.0 416.9 L408.4 419.0 L409.8 414.3 L411.7 418.5 L413.6 420.9 L416.4 418.5 L418.0 422.1 L419.8 425.8 L421.6 420.0 L423.2 422.7 L425.1 419.5 L426.8 422.7 L428.9 423.7 L430.3 424.7 L431.5 420.0 L433.4 428.9 L434.7 421.6 L435.2 422.7" stroke="#808080" stroke-width="1.75" fill="none" stroke-linejoin="round"/>
<rect x="340.10" y="363.50" width="224.50" height="112.40" stroke="#000" stroke-width="1.35" fill="none"/>
<path d="M510 374.00H526" stroke="#808080" stroke-width="1.6"/>
<text class="xy" transform="translate(526.0,377.70) scale(0.89,1)">historical</text>
<path d="M510 383.90H526" stroke="#008c00" stroke-width="1.6"/>
<text class="xy" transform="translate(526.0,387.60) scale(0.89,1)">RCP8.5</text>
<path d="M510 393.80H526" stroke="#ff0000" stroke-width="1.6"/>
<text class="xy" transform="translate(526.0,397.50) scale(0.89,1)">RCP4.5</text>
<path d="M510 403.70H526" stroke="#0000ff" stroke-width="1.6"/>
<text class="xy" transform="translate(526.0,407.40) scale(0.89,1)">RCP2.6</text>
</svg></body></html>
